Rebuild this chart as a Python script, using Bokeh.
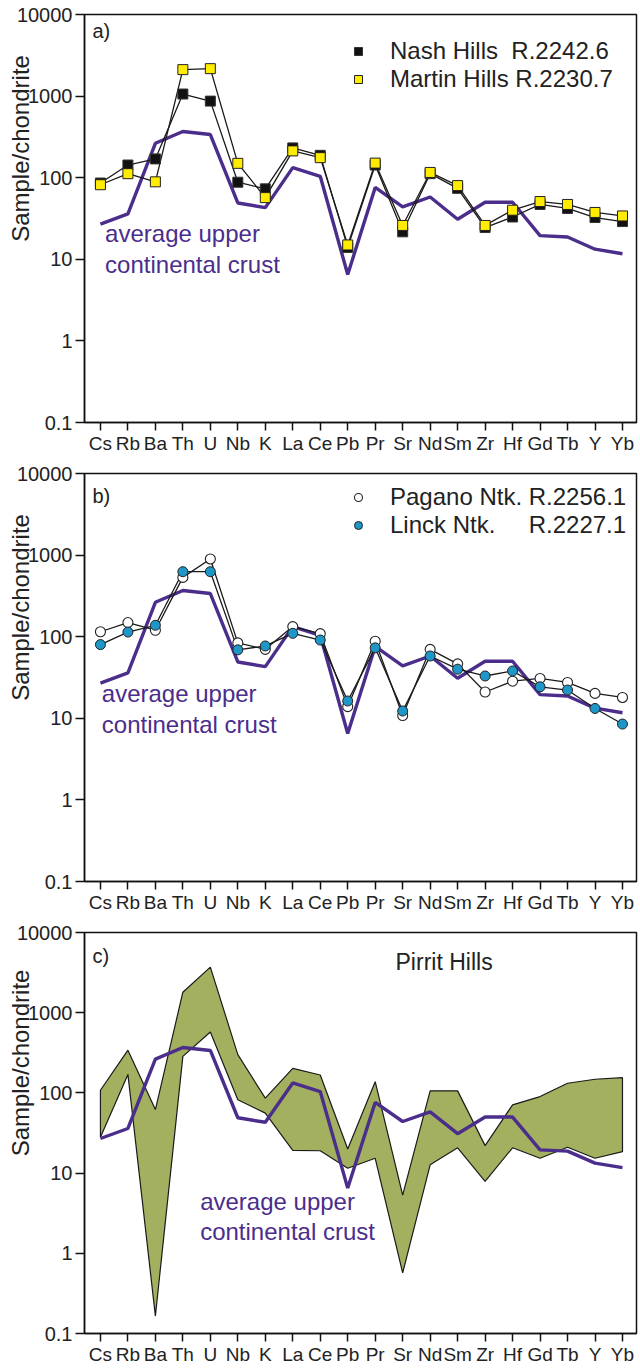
import math
from bokeh.plotting import figure
from bokeh.models import (FixedTicker, Label, Legend, LegendItem, Range1d,
                          NumeralTickFormatter)
from bokeh.layouts import column
from bokeh.embed import file_html
from bokeh.resources import INLINE

# ---------------- data ----------------
ELEMENTS = ["Cs", "Rb", "Ba", "Th", "U", "Nb", "K", "La", "Ce", "Pb",
            "Pr", "Sr", "Nd", "Sm", "Zr", "Hf", "Gd", "Tb", "Y", "Yb"]

UCC = [27, 36, 264, 368, 338, 49, 43, 133, 104, 6.5,
       76, 44, 58, 31, 50, 50, 19.5, 18.8, 13.3, 11.7]

NASH_HILLS = [86, 143, 170, 1060, 868, 88, 73, 232, 188, 14,
              143, 21.7, 112, 74, 24.5, 33, 47, 42, 32.5, 29]
MARTIN_HILLS = [82, 112, 89, 2110, 2170, 150, 57, 213, 176, 15,
                151, 26, 116, 80, 26, 40, 51, 47, 37.5, 34]

PAGANO = [115, 149, 120, 533, 897, 84, 70, 133, 109, 13.9,
          88, 10.8, 70, 46.5, 21, 28.5, 30.8, 27.5, 20.2, 18]
LINCK = [80, 114, 138, 626, 626, 69, 77, 110, 91, 16.3,
         73, 12.3, 58, 40, 33, 38, 24.3, 22.2, 13.2, 8.5]

PIRRIT_MAX = [108, 341, 62, 1800, 3700, 300, 86, 202, 167, 20,
              138, 5.3, 106, 106, 22, 71, 90, 132, 148, 155]
PIRRIT_MIN = [28, 170, 0.165, 285, 575, 82, 56, 19.2, 19, 11.5,
              15.3, 0.57, 12.7, 20.7, 7.9, 20.7, 15.3, 21, 15.3, 18.5]

Y_TICKS = [0.1, 1, 10, 100, 1000, 10000]

# ---------------- style ----------------
FONT = "Liberation Sans"
PURPLE = "#4b2d8c"
YELLOW = "#ffec00"
BLUE = "#1e96c8"
OLIVE = "#a3b05f"
TEXT = "#222222"

X = list(range(len(ELEMENTS)))
# leading no-break spaces lift the rotated title towards the top of the panel
Y_TITLE = "\u00a0" * 21 + "Sample/chondrite"


def make_panel(frame_height, border_top, border_bottom):
    p = figure(frame_width=552, frame_height=frame_height,
               min_border_left=84, min_border_right=4,
               min_border_top=border_top, min_border_bottom=border_bottom,
               y_axis_type="log",
               x_range=Range1d(-0.58, 19.51), y_range=Range1d(0.1, 10000),
               output_backend="svg", toolbar_location=None, title=None)
    p.xgrid.visible = False
    p.ygrid.visible = False
    p.outline_line_color = "#111111"
    p.outline_line_width = 1.5
    p.background_fill_color = "white"
    p.border_fill_color = "white"

    p.xaxis.ticker = FixedTicker(ticks=X)
    p.xaxis.major_label_overrides = {i: e for i, e in zip(X, ELEMENTS)}
    p.yaxis.ticker = FixedTicker(ticks=Y_TICKS)
    p.yaxis.formatter = NumeralTickFormatter(format="0.[0]")
    for ax in (p.xaxis, p.yaxis):
        ax.axis_line_color = "#111111"
        ax.axis_line_width = 1.5
        ax.major_tick_line_color = "#111111"
        ax.major_tick_line_width = 1.5
        ax.major_tick_in = 0
        ax.minor_tick_line_color = None
        ax.major_label_text_font = FONT
        ax.major_label_text_color = TEXT
    p.xaxis.major_label_text_font_size = "19px"
    p.yaxis.major_label_text_font_size = "20px"
    p.xaxis.major_tick_out = 8
    p.xaxis.major_label_standoff = 2
    p.yaxis.major_tick_out = 9
    p.yaxis.major_label_standoff = 3

    p.yaxis.axis_label = Y_TITLE
    p.yaxis.axis_label_text_font = FONT
    p.yaxis.axis_label_text_font_size = "24px"
    p.yaxis.axis_label_text_font_style = "normal"
    p.yaxis.axis_label_text_color = TEXT
    p.yaxis.axis_label_standoff = -20
    return p


def add_tag(p, tag, y):
    p.add_layout(Label(x=-0.29, y=y, text=tag, text_font=FONT,
                       text_font_size="20px", text_color=TEXT,
                       text_baseline="middle"))


def add_ucc_text(p, x, y1, y2):
    for t, yy in (("average upper", y1), ("continental crust", y2)):
        p.add_layout(Label(x=x, y=yy, text=t, text_font=FONT,
                           text_font_size="24px", text_color=PURPLE,
                           text_baseline="alphabetic"))


def make_legend(p, items, loc):
    lg = Legend(items=items, location=loc, padding=0, spacing=-6,
                glyph_width=20, glyph_height=20, label_standoff=22,
                label_height=20, border_line_color=None,
                background_fill_alpha=0,
                label_text_font=FONT, label_text_font_size="24px",
                label_text_color=TEXT)
    p.add_layout(lg)


# ---------------- panel a ----------------
pa = make_panel(408, 14, 37)
pa.line(X, UCC, color=PURPLE, line_width=3.4)
pa.line(X, NASH_HILLS, color="#1a1a1a", line_width=1.3)
pa.line(X, MARTIN_HILLS, color="#1a1a1a", line_width=1.3)
ra1 = pa.scatter(X, NASH_HILLS, marker="square", size=10, fill_color="#111111",
                 line_color="#333333", line_width=1)
ra2 = pa.scatter(X, MARTIN_HILLS, marker="square", size=10, fill_color=YELLOW,
                 line_color="#222222", line_width=1)
make_legend(pa, [LegendItem(label="Nash Hills\u00a0\u00a0R.2242.6", renderers=[ra1]),
                 LegendItem(label="Martin Hills R.2230.7", renderers=[ra2])],
            (264, 329))
add_tag(pa, "a)", 6200)
add_ucc_text(pa, 0.17, 20.7, 8.6)

# ---------------- panel b ----------------
pb = make_panel(408, 14, 37)
pb.line(X, UCC, color=PURPLE, line_width=3.4)
pb.line(X, PAGANO, color="#1a1a1a", line_width=1.3)
pb.line(X, LINCK, color="#1a1a1a", line_width=1.3)
rb1 = pb.scatter(X, PAGANO, marker="circle", size=10, fill_color="white",
                 line_color="#222222", line_width=1.1)
rb2 = pb.scatter(X, LINCK, marker="circle", size=10, fill_color=BLUE,
                 line_color="#222222", line_width=1)
make_legend(pb, [LegendItem(label="Pagano Ntk. R.2256.1", renderers=[rb1]),
                 LegendItem(label="Linck Ntk.\u00a0\u00a0\u00a0\u00a0\u00a0R.2227.1",
                            renderers=[rb2])],
            (264, 342))
add_tag(pb, "b)", 5370)
add_ucc_text(pb, 0.05, 20.2, 8.4)

# ---------------- panel c ----------------
pc = make_panel(401, 14, 36)
pc.patch(X + X[::-1], PIRRIT_MAX + PIRRIT_MIN[::-1], fill_color=OLIVE,
         line_color="#1a1a1a", line_width=1.2)
pc.line(X, UCC, color=PURPLE, line_width=3.4)
add_tag(pc, "c)", 5130)
pc.add_layout(Label(x=10.74, y=4270, text="Pirrit Hills", text_font=FONT,
                    text_font_size="23px", text_color=TEXT,
                    text_baseline="middle"))
add_ucc_text(pc, 3.63, 4.4, 1.88)

layout = column(pa, pb, pc, spacing=0)
open("out.html", "w").write(file_html(layout, INLINE))
